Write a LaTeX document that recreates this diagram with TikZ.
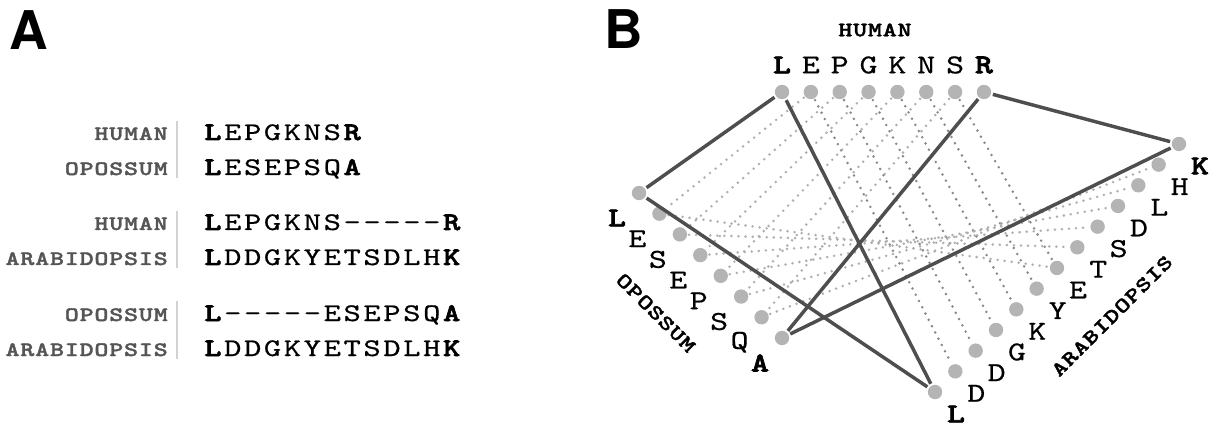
\documentclass[tikz,border=0pt]{standalone}
\usepackage{fontspec}
\usepackage{tikz}
\newfontfamily\seqfont{lmmono10-regular.otf}[BoldFont=lmmonolt10-bold.otf,BoldFeatures={FakeBold=2.4},FakeStretch=1.3,FakeBold=0.6,LetterSpace=10.3]
\newfontfamily\labfont{lmmonolt10-bold.otf}[FakeStretch=1.3,FakeBold=1.6,LetterSpace=3.9]
\newfontfamily\resfont{lmmono10-regular.otf}[BoldFont=lmmonolt10-bold.otf,BoldFeatures={FakeBold=2.4},FakeStretch=1.25,FakeBold=0.6]
\newfontfamily\panelfont{TeX Gyre Heros}
\definecolor{dotgray}{HTML}{B4B4B4}
\definecolor{matchgray}{HTML}{4E4E4E}
\definecolor{pairdark}{HTML}{888888}
\definecolor{pairlight}{HTML}{AFAFAF}
\definecolor{labgray}{HTML}{555555}
\definecolor{bargray}{HTML}{D2D2D2}

\tikzset{
  panel/.style={font=\panelfont\bfseries\fontsize{40}{40}\selectfont, inner sep=0pt, anchor=base west},
  seqtext/.style={font=\seqfont\fontsize{19}{20}\selectfont, inner sep=0pt, anchor=base west},
  species/.style={font=\labfont\fontsize{15.4}{16}\selectfont, inner sep=0pt, text=labgray},
  res/.style={font=\resfont\fontsize{20.5}{21}\selectfont, inner sep=0pt},
  resdot/.style={circle, fill=dotgray, inner sep=0pt, minimum size=10.8pt, outer sep=1.5pt},
  match/.style={matchgray, line width=2.6pt},
  pairhard/.style={pairdark, line width=2.1pt, line cap=round, dash pattern=on 0pt off 5.3pt},
  pairsoft/.style={pairlight, line width=2.1pt, line cap=round, dash pattern=on 0pt off 5.3pt},
  sepbar/.style={bargray, line width=2pt}
}

\begin{document}
\begin{tikzpicture}[x=0.75pt, y=-0.75pt]
  \useasboundingbox (0,0) rectangle (1212,427);

  % ── Panel A: pairwise alignments ─────────────────────────────
  \node[panel] (pA) at (9,50) {A};

  \node[species, anchor=base east] (sp1) at (168,140) {HUMAN};
  \node[species, anchor=base east] (sp2) at (168,175) {OPOSSUM};
  \node[species, anchor=base east] (sp3) at (168,230) {HUMAN};
  \node[species, anchor=base east] (sp4) at (168,265) {ARABIDOPSIS};
  \node[species, anchor=base east] (sp5) at (168,321) {OPOSSUM};
  \node[species, anchor=base east] (sp6) at (168,356) {ARABIDOPSIS};

  \draw[sepbar] (177,121) -- (177,178);
  \draw[sepbar] (177,211) -- (177,268);
  \draw[sepbar] (177,301) -- (177,359);

  \node[seqtext] (al1) at (204,140) {\textbf{L}EPGKNS\textbf{R}};
  \node[seqtext] (al2) at (204,175) {\textbf{L}ESEPSQ\textbf{A}};
  \node[seqtext] (al3) at (204,230) {\textbf{L}EPGKNS-----\textbf{R}};
  \node[seqtext] (al4) at (204,265) {\textbf{L}DDGKYETSDLH\textbf{K}};
  \node[seqtext] (al5) at (204,321) {\textbf{L}-----ESEPSQ\textbf{A}};
  \node[seqtext] (al6) at (204,356) {\textbf{L}DDGKYETSDLH\textbf{K}};

  % ── Panel B: alignment graph ─────────────────────────────────
  \node[panel] (pB) at (604,49) {B};

  % human residues along the top
  \foreach \r [count=\i] in {\textbf{L},E,P,G,K,N,S,\textbf{R}} {
    \node[resdot] (h\i) at ({782+28.85*(\i-1)},92) {};
    \node[res] (hl\i) at ({782+28.85*(\i-1)},65) {\r};
  }
  % opossum residues down the left side
  \foreach \r [count=\i] in {\textbf{L},E,S,E,P,S,Q,\textbf{A}} {
    \node[resdot] (o\i) at ({639+20.43*(\i-1)},{193+20.71*(\i-1)}) {};
    \node[res] (ol\i) at ({617+20.43*(\i-1)},{218+20.71*(\i-1)}) {\r};
  }
  % arabidopsis residues up the right side
  \foreach \r [count=\i] in {\textbf{L},D,D,G,K,Y,E,T,S,D,L,H,\textbf{K}} {
    \node[resdot] (a\i) at ({935+20.33*(\i-1)},{392-20.67*(\i-1)}) {};
    \node[res] (al\i) at ({956+20.33*(\i-1)},{414-20.67*(\i-1)}) {\r};
  }

  \node[species, text=black] (nh) at (875,30) {HUMAN};
  \node[species, text=black, rotate=-45] (no) at (656,313) {OPOSSUM};
  \node[species, text=black, rotate=45] (na) at (1112,316) {ARABIDOPSIS};

  % aligned pairs (dotted)
  \foreach \i in {2,...,7} {
    \draw[pairsoft] (h\i) -- (o\i);
    \draw[pairhard] (h\i) -- (a\i);
  }
  \foreach \i [evaluate=\i as \j using int(\i+5)] in {2,...,7}
    \draw[pairsoft] (o\i) -- (a\j);

  % anchor matches (solid)
  \draw[match] (h1) -- (o1);
  \draw[match] (h1) -- (a1);
  \draw[match] (o1) -- (a1);
  \draw[match] (h8) -- (o8);
  \draw[match] (h8) -- (a13);
  \draw[match] (o8) -- (a13);

\end{tikzpicture}
\end{document}
